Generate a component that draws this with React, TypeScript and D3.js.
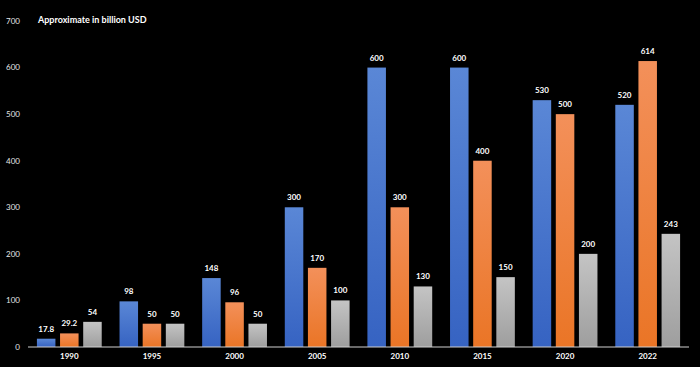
import React from "react";
import * as d3 from "d3";

const years = ["1990", "1995", "2000", "2005", "2010", "2015", "2020", "2022"];
const seriesA = [17.8, 98, 148, 300, 600, 600, 530, 520];
const seriesB = [29.2, 50, 96, 170, 300, 400, 500, 614];
const seriesC = [54, 50, 50, 100, 130, 150, 200, 243];
const yTicks = [0, 100, 200, 300, 400, 500, 600, 700];
const title = "Approximate in billion USD";

const W = 700;
const H = 367;
const FONT = "Lato, 'Open Sans', sans-serif";

export default function App() {
  const x = d3.scaleBand<string>().domain(years).range([28, 689]).paddingInner(0).paddingOuter(0);
  const y = d3.scaleLinear().domain([0, 700]).range([347, 21]);
  const inner = d3.scaleBand<number>().domain([0, 1, 2]).range([-32.4, 32.4]).paddingInner(0.2).paddingOuter(0);

  const series = [
    { values: seriesA, grad: "gA" },
    { values: seriesB, grad: "gB" },
    { values: seriesC, grad: "gC" },
  ];

  return (
    <svg width={W} height={H} style={{ position: "fixed", left: 0, top: 0, display: "block" }}>
      <defs>
        <linearGradient id="gA" x1="0" y1="0" x2="0" y2="1">
          <stop offset="0" stopColor="#5a87d6" />
          <stop offset="1" stopColor="#3663c2" />
        </linearGradient>
        <linearGradient id="gB" x1="0" y1="0" x2="0" y2="1">
          <stop offset="0" stopColor="#f3905a" />
          <stop offset="1" stopColor="#ea7526" />
        </linearGradient>
        <linearGradient id="gC" x1="0" y1="0" x2="0" y2="1">
          <stop offset="0" stopColor="#c4c4c4" />
          <stop offset="1" stopColor="#9e9e9e" />
        </linearGradient>
      </defs>
      <rect x={0} y={0} width={W} height={H} fill="#000" />
      {yTicks.map((t) => (
        <text key={t} x={20} y={y(t)} dy="0.35em" textAnchor="end" fill="#e6e6e6" fontSize={8} fontFamily={FONT}>
          {t}
        </text>
      ))}
      <text x={38} y={23} fill="#fff" fontSize={9} fontWeight="bold" fontFamily={FONT}>
        {title}
      </text>
      {series.map((s, si) =>
        s.values.map((v, i) => {
          const cx = (x(years[i]) as number) + x.bandwidth() / 2 + (inner(si) as number);
          const bw = inner.bandwidth();
          return (
            <g key={`${si}-${i}`}>
              <rect x={cx} y={y(v)} width={bw} height={y(0) - y(v)} fill={`url(#${s.grad})`} />
              <text x={cx + bw / 2} y={y(v) - 7} textAnchor="middle" fill="#fff" fontSize={8} fontWeight="bold" fontFamily={FONT}>
                {v}
              </text>
            </g>
          );
        })
      )}
      <line x1={28} x2={689} y1={y(0)} y2={y(0)} stroke="#d0d0d0" strokeWidth={1} />
      {years.map((yr) => (
        <text key={yr} x={(x(yr) as number) + x.bandwidth() / 2} y={359} textAnchor="middle" fill="#fff" fontSize={8} fontWeight="bold" fontFamily={FONT}>
          {yr}
        </text>
      ))}
    </svg>
  );
}
